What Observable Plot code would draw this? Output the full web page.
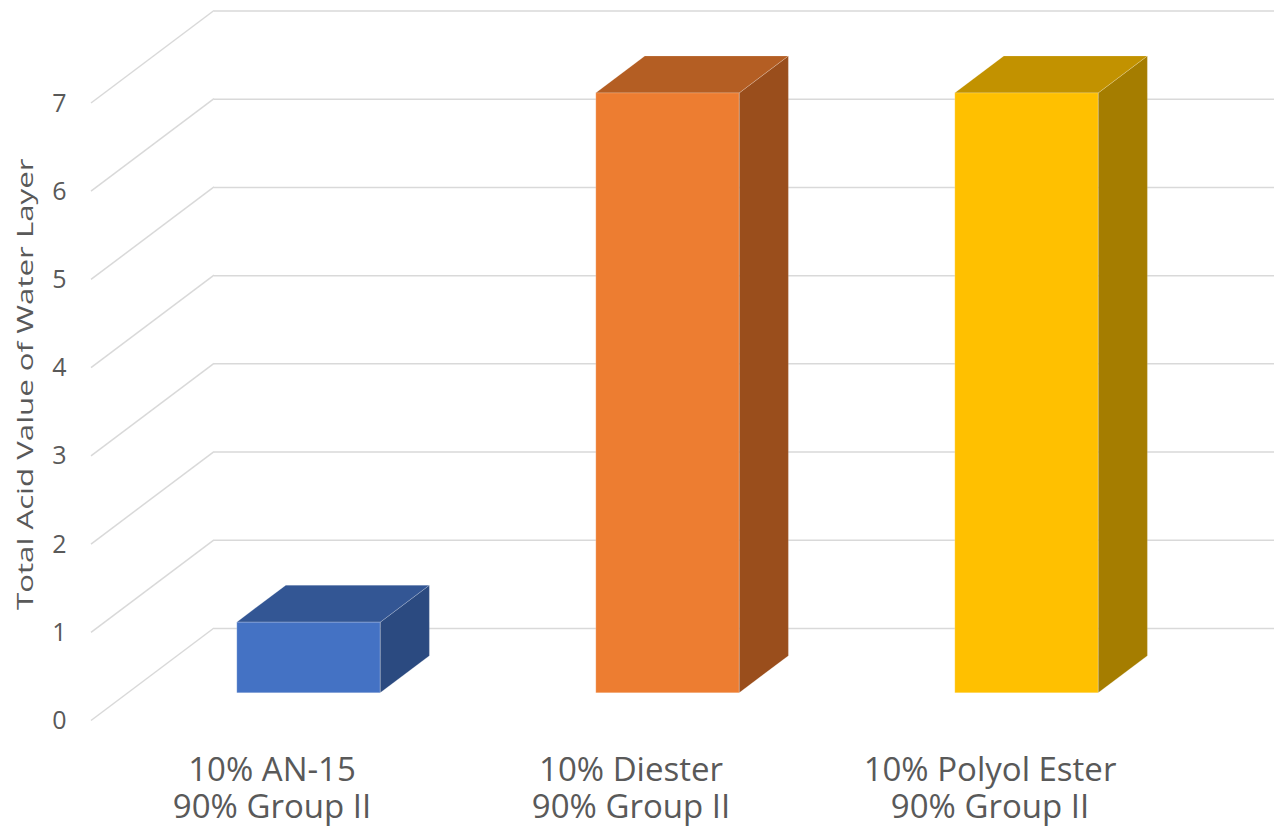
<!DOCTYPE html>
<html>
<head>
<meta charset="utf-8">
<script src="https://cdn.jsdelivr.net/npm/d3@7"></script>
<script src="https://cdn.jsdelivr.net/npm/@observablehq/plot@0.6"></script>
<style>
  html, body { margin: 0; padding: 0; background: #fff; overflow: hidden; }
</style>
</head>
<body>
<div id="chart"></div>
<script>
// Blends and their total acid value
const categories = ["10% AN-15\n90% Group II", "10% Diester\n90% Group II", "10% Polyol Ester\n90% Group II"];
const values = [0.8, 6.8, 6.8];

// Face colours of each column: front, top (lit from above), right side (shaded)
const frontColors = ["#4472C4", "#ED7D31", "#FFC000"];
const topColors = ["#335694", "#B45E23", "#C29200"];
const sideColors = ["#2B4A80", "#9A4E1C", "#A57D00"];

const yTicks = [0, 1, 2, 3, 4, 5, 6, 7];
const yTitle = "Total Acid Value of Water Layer";

const bars = categories.map((category, i) => ({
  category, value: values[i], front: frontColors[i], top: topColors[i], side: sideColors[i]
}));

// Page and frame geometry
const width = 1274, height = 835;
const marginLeft = 91, marginRight = 104, marginTop = 103, marginBottom = 114.5;

// Oblique projection: full floor depth in pixels, and where the columns sit in it
const depthX = 123, depthY = 92.5;
const barNear = 0.3, barFar = 0.7;
const barShare = 0.4; // column width as a share of its band
const step = (width - marginLeft - marginRight) / categories.length;
const inset = step * (1 - barShare) / 2;

const gridColor = "#d9d9d9";
const textColor = "#595959";
const titleStretch = 1.42; // the axis title is set in an elongated face

// Slanted floor/side-wall lines joining the value axis to the back wall
function wallDiagonals(index, scales, channels, dims) {
  const g = d3.create("svg:g").attr("stroke", gridColor).attr("stroke-width", 1.5);
  const x0 = dims.marginLeft;
  for (const t of yTicks) {
    const y = scales.y(t);
    g.append("line")
      .attr("x1", x0).attr("y1", y)
      .attr("x2", x0 + depthX).attr("y2", y - depthY);
  }
  return g.node();
}

// Top and right side faces of each column
function columnFaces(index, scales) {
  const g = d3.create("svg:g");
  const bw = scales.x.bandwidth();
  const ddx = (barFar - barNear) * depthX, ddy = (barFar - barNear) * depthY;
  for (const b of bars) {
    const xl = scales.x(b.category) + bw * (1 - barShare) / 2 + barNear * depthX;
    const xr = xl + bw * barShare;
    const yb = scales.y(0) - barNear * depthY;
    const yt = scales.y(b.value) - barNear * depthY;
    g.append("path")
      .attr("d", `M${xr},${yb}L${xr},${yt}L${xr + ddx},${yt - ddy}L${xr + ddx},${yb - ddy}Z`)
      .attr("fill", b.side).attr("stroke", "#fff").attr("stroke-opacity", 0.2);
    g.append("path")
      .attr("d", `M${xl},${yt}L${xr},${yt}L${xr + ddx},${yt - ddy}L${xl + ddx},${yt - ddy}Z`)
      .attr("fill", b.top).attr("stroke", "#fff").attr("stroke-opacity", 0.2);
  }
  return g.node();
}

const chart = Plot.plot({
  width, height, marginLeft, marginRight, marginTop, marginBottom,
  style: { fontFamily: "'Open Sans', sans-serif", fontSize: "25px", color: textColor, background: "#fff" },
  x: { domain: categories, padding: 0, axis: null },
  y: { domain: [0, 7], ticks: yTicks, tickFormat: "d", tickSize: 0, tickPadding: 25, label: null },
  color: { type: "identity" },
  marks: [
    // back wall gridlines
    Plot.ruleY(yTicks, { dx: depthX, dy: -depthY, stroke: gridColor, strokeWidth: 1.5 }),
    wallDiagonals,
    columnFaces,
    // front faces of the columns
    Plot.barY(bars, {
      x: "category", y: "value", fill: "front",
      insetLeft: inset, insetRight: inset,
      dx: barNear * depthX, dy: -barNear * depthY,
      stroke: "#fff", strokeOpacity: 0.2
    }),
    // category labels
    Plot.text(bars, {
      x: "category", text: "category", frameAnchor: "bottom", lineAnchor: "top",
      dy: 34, fontSize: 33, lineHeight: 1.12, fill: textColor
    }),
    // value axis title
    Plot.text([yTitle], {
      frameAnchor: "left", textAnchor: "middle", rotate: -90,
      dx: -66, dy: -28, fontSize: 22, fill: textColor
    })
  ]
});

// elongate the rotated axis title along its reading direction
d3.select(chart).selectAll("text")
  .filter(function() { return this.textContent === yTitle; })
  .each(function() {
    const t = this.getAttribute("transform");
    if (t && t.includes("rotate(")) {
      this.setAttribute("transform", t.replace("rotate(", `scale(1,${titleStretch}) rotate(`));
    }
  });

document.getElementById("chart").appendChild(chart);
</script>
</body>
</html>
